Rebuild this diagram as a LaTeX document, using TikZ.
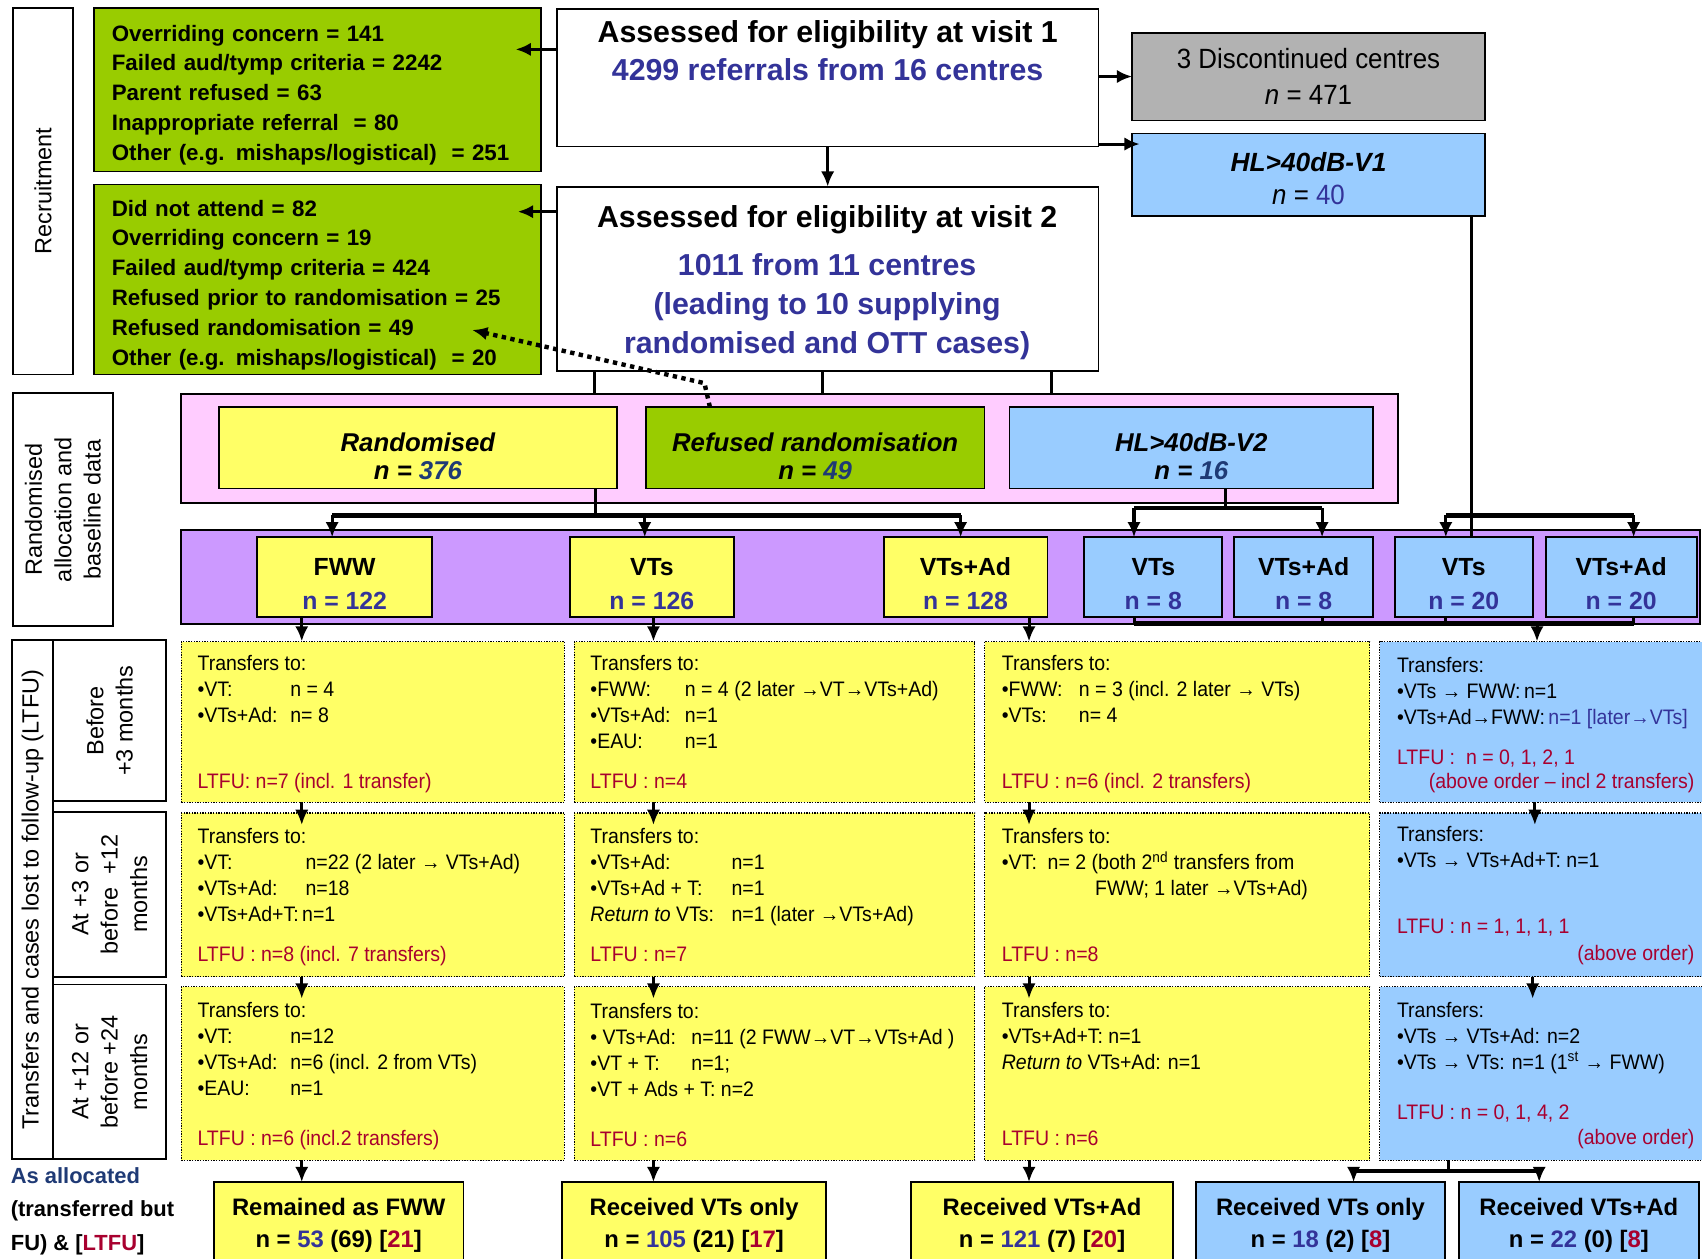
\documentclass[tikz,border=0pt]{standalone}
\usepackage{fontspec}
\setmainfont{Liberation Sans}
\newfontfamily\nrw{Liberation Sans}[FakeStretch=0.93]
\usepackage{xcolor}
\usetikzlibrary{positioning}
\usetikzlibrary{arrows,arrows.meta}
\usetikzlibrary{calc}

\definecolor{grn}{HTML}{99CC00}
\definecolor{ylw}{HTML}{FFFF66}
\definecolor{lblue}{HTML}{99CCFF}
\definecolor{gry}{HTML}{B2B2B2}
\definecolor{pnk}{HTML}{FFCCFF}
\definecolor{prp}{HTML}{CC99FF}
\definecolor{navy}{HTML}{333399}
\definecolor{dnavy}{HTML}{1F3A75}
\definecolor{ltfu}{HTML}{A8002F}

\begin{document}
\begin{tikzpicture}[x=0.02cm,y=-0.02cm,every node/.style={outer sep=0pt},
 boxbase/.style={draw,line width=1pt,inner sep=0pt,anchor=north west},
 sz/.style 2 args={minimum width=#1*0.02cm,minimum height=#2*0.02cm},
 exclbox/.style={boxbase,fill=grn,align=left,inner xsep=0.32cm,text width=7.58cm,
  font=\fontsize{11.7}{15.65}\selectfont\bfseries,
  execute at begin node={\rule{0pt}{14.2pt}}},
 stagebox/.style={boxbase,fill=white},
 sidebox/.style={draw,line width=1pt,inner sep=0pt,rotate=90,align=center,
  font=\fontsize{12.3}{15.4}\selectfont},
 grpbox/.style={boxbase,align=center,font=\fontsize{13.5}{14.5}\selectfont\bfseries\itshape},
 armbox/.style={boxbase,align=center,font=\fontsize{13}{17.6}\selectfont\bfseries},
 tbox/.style={boxbase,line width=0.6pt,dash pattern=on 0.7pt off 0.7pt},
 endbox/.style={boxbase,align=center,font=\fontsize{12.5}{17}\selectfont\bfseries},
 ttxt/.style={anchor=base west,align=left,inner sep=0pt,font=\nrw\fontsize{11}{13.66}\selectfont},
 ltxt/.style={ttxt,text=ltfu},
 otxt/.style={ltxt,anchor=base east},
 link/.style={line width=1.6pt},
 arr/.style={line width=1.6pt,-{Latex[length=8pt,width=7pt]}},
 deep/.style={shorten >=-0.22cm},
 bar/.style={line width=2.6pt},
 dotarr/.style={line width=2.3pt,dash pattern=on 2.3pt off 2.3pt,-{Latex[length=8pt,width=7pt]}}]

 \useasboundingbox (0,0) rectangle (1568,1159);

 % recruitment
 \node[sidebox,sz={338}{55}] (recr) at (39.5,176) {Recruitment};
 \node[exclbox,sz={411}{151}] (ex1) at (87,7) {Overriding concern = 141\\
  Failed aud/tymp criteria = 2242\\Parent refused = 63\\
  Inappropriate referral \ = 80\\Other (e.g. mishaps/logistical) \ = 251};
 \node[exclbox,sz={411}{175}] (ex2) at (87,170) {Did not attend = 82\\
  Overriding concern = 19\\Failed aud/tymp criteria = 424\\
  Refused prior to randomisation = 25\\Refused randomisation = 49\\
  Other (e.g. mishaps/logistical) \ = 20};

 \node[stagebox,sz={499}{127}] (v1) at (513,8) {};
 \node[align=center,font=\fontsize{15.9}{20.2}\selectfont\bfseries] (v1t) at (762.5,46.75)
  {Assessed for eligibility at visit 1\\{\color{navy}4299 referrals from 16 centres}};
 \node[stagebox,sz={499}{170}] (v2) at (513,172) {};
 \node[font=\fontsize{15.9}{20.2}\selectfont\bfseries] (v2t) at (762,202.5)
  {Assessed for eligibility at visit 2};
 \node[align=center,text=navy,font=\fontsize{15.9}{20.5}\selectfont\bfseries] (v2b) at (762,282.5)
  {1011 from 11 centres\\(leading to 10 supplying\\randomised and OTT cases)};

 \node[boxbase,fill=gry,sz={325}{81},align=center,font=\nrw\fontsize{14.6}{18.5}\selectfont]
  (disc) at (1043,30) {3 Discontinued centres\\\textit{n} = 471};
 \node[boxbase,fill=lblue,sz={325}{76},align=center,font=\nrw\fontsize{14.6}{17.6}\selectfont]
  (hl1) at (1043,123) {\rule{0pt}{13.9pt}{\fontsize{13.8}{17.6}\selectfont\normalfont\bfseries\itshape HL>40dB-V1}\\
  \textit{n} = {\color{navy}40}};

 % randomised allocation
 \node[sidebox,sz={215}{92}] (alloc) at (58,469.5) {Randomised\\allocation and\\baseline data};
 \node[boxbase,fill=pnk,sz={1121}{100}] (pinkbg) at (167,363) {};
 \node[grpbox,fill=ylw,sz={366}{75}] (rand) at (202,375)
  {\rule{0pt}{18.8pt}Randomised\\n = {\color{dnavy}376}};
 \node[grpbox,fill=grn,sz={312}{75}] (refd) at (595,375)
  {\rule{0pt}{18.8pt}Refused randomisation\\n = {\color{dnavy}49}};
 \node[grpbox,fill=lblue,sz={335}{75}] (hl2) at (930,375)
  {\rule{0pt}{18.8pt}HL>40dB-V2\\n = {\color{dnavy}16}};

 \node[boxbase,fill=prp,sz={1399}{87}] (purplebg) at (167,488) {};
 \node[armbox,fill=ylw,sz={161}{73}] (fww) at (237,495) {\rule{0pt}{16.2pt}FWW\\{\color{navy}n = 122}};
 \node[armbox,fill=ylw,sz={151}{73}] (vts) at (525,495) {\rule{0pt}{16.2pt}VTs\\{\color{navy}n = 126}};
 \node[armbox,fill=ylw,sz={151}{73}] (vtsad) at (814,495) {\rule{0pt}{16.2pt}VTs+Ad\\{\color{navy}n = 128}};
 \node[armbox,fill=lblue,sz={127}{73}] (bvts1) at (999,495) {\rule{0pt}{16.2pt}VTs\\{\color{navy}n = 8}};
 \node[armbox,fill=lblue,sz={128}{73}] (bvtsad1) at (1137,495) {\rule{0pt}{16.2pt}VTs+Ad\\{\color{navy}n = 8}};
 \node[armbox,fill=lblue,sz={127}{73}] (bvts2) at (1285,495) {\rule{0pt}{16.2pt}VTs\\{\color{navy}n = 20}};
 \node[armbox,fill=lblue,sz={139}{73}] (bvtsad2) at (1424,495) {\rule{0pt}{16.2pt}VTs+Ad\\{\color{navy}n = 20}};

 % follow-up
 \node[sidebox,sz={478}{38}] (ltfu) at (30,829) {Transfers and cases lost to follow-up (LTFU)};
 \node[sidebox,sz={148}{104}] (per1) at (101,664) {Before\\+3 months};
 \node[sidebox,sz={152}{104}] (per2) at (101,824) {At +3 or\\before \ +12\\months};
 \node[sidebox,sz={161}{104}] (per3) at (101,987.5) {At +12 or\\before +24\\months};

 \foreach \c/\xa/\w/\col in {1/167/353/ylw,2/529/369/ylw,3/907/355/ylw,4/1271/300/lblue}
  \foreach \r/\ya/\h in {1/591/148,2/749/151,3/909/160}
   \node[tbox,fill=\col,sz={\w}{\h}] (t\c\r) at (\xa,\ya) {};

 % text nodes sit on the baseline of their last line
 \node[ttxt] (x11) at (182,665.6) {Transfers to:\\\makebox[1.71cm][l]{•VT:}n = 4\\
  \makebox[1.71cm][l]{•VTs+Ad:}n= 8};
 \node[ltxt] (l11) at (182,726) {LTFU: n=7 (incl. 1 transfer)};
 \node[ttxt] (x12) at (182,849.4) {Transfers to:\\
  \makebox[1.99cm][l]{•VT:}n=22 (2 later → VTs+Ad)\\
  \makebox[1.99cm][l]{•VTs+Ad:}n=18\\•VTs+Ad+T:\,n=1};
 \node[ltxt] (l12) at (182,885.6) {LTFU : n=8 (incl. 7 transfers)};
 \node[ttxt] (x13) at (182,1009.1) {Transfers to:\\\makebox[1.71cm][l]{•VT:}n=12\\
  \makebox[1.71cm][l]{•VTs+Ad:}n=6 (incl. 2 from VTs)\\\makebox[1.71cm][l]{•EAU:}n=1};
 \node[ltxt] (l13) at (182,1055) {LTFU : n=6 (incl.2 transfers)};

 \node[ttxt] (x21) at (544,689.6) {Transfers to:\\
  \makebox[1.74cm][l]{•FWW:}n = 4 (2 later →VT→VTs+Ad)\\
  \makebox[1.74cm][l]{•VTs+Ad:}n=1\\\makebox[1.74cm][l]{•EAU:}n=1};
 \node[ltxt] (l21) at (544,726) {LTFU : n=4};
 \node[ttxt] (x22) at (544,849.4) {Transfers to:\\\makebox[2.6cm][l]{•VTs+Ad:}n=1\\
  \makebox[2.6cm][l]{•VTs+Ad + T:}n=1\\
  \makebox[2.6cm][l]{\textit{Return to} VTs:}n=1 (later →VTs+Ad)};
 \node[ltxt] (l22) at (544,885.6) {LTFU : n=7};
 \node[ttxt] (x23) at (544,1010.6) {Transfers to:\\
  \makebox[1.86cm][l]{• VTs+Ad:}n=11 (2 FWW→VT→VTs+Ad )\\
  \makebox[1.86cm][l]{•VT + T:}n=1;\\•VT + Ads + T: n=2};
 \node[ltxt] (l23) at (544,1056.6) {LTFU : n=6};

 \node[ttxt] (x31) at (923,665.6) {Transfers to:\\
  \makebox[1.42cm][l]{•FWW:}n = 3 (incl. 2 later → VTs)\\\makebox[1.42cm][l]{•VTs:}n= 4};
 \node[ltxt] (l31) at (923,726) {LTFU : n=6 (incl. 2 transfers)};
 \node[ttxt] (x32) at (923,825.4) {Transfers to:\\
  •VT:\ \ n= 2 (both 2\textsuperscript{nd} transfers from\\\hspace*{1.72cm}FWW; 1 later →VTs+Ad)};
 \node[ltxt] (l32) at (923,885.6) {LTFU : n=8};
 \node[ttxt] (x33) at (923,985.1) {Transfers to:\\•VTs+Ad+T: n=1\\\textit{Return to} VTs+Ad: n=1};
 \node[ltxt] (l33) at (923,1055) {LTFU : n=6};

 \node[ttxt] (x41) at (1287,667.2) {Transfers:\\•VTs → FWW:\,n=1\\
  •VTs+Ad→FWW:\,{\color{navy}n=1 [later→VTs]}};
 \node[ltxt] (l41) at (1287,704.6) {LTFU :\ \ n = 0, 1, 2, 1};
 \node[otxt] (o41) at (1561,726.6) {(above order – incl 2 transfers)};
 \node[ttxt] (x42) at (1287,799.6) {Transfers:\\•VTs → VTs+Ad+T: n=1};
 \node[ltxt] (l42) at (1287,860.3) {LTFU : n = 1, 1, 1, 1};
 \node[otxt] (o42) at (1561,884.6) {(above order)};
 \node[ttxt] (x43) at (1287,985.1) {Transfers:\\•VTs → VTs+Ad: n=2\\
  •VTs → VTs: n=1 (1\textsuperscript{st} → FWW)};
 \node[ltxt] (l43) at (1287,1031.6) {LTFU : n = 0, 1, 4, 2};
 \node[otxt] (o43) at (1561,1054.6) {(above order)};

 % outcome
 \node[anchor=west,align=left,inner sep=0pt,font=\fontsize{11.5}{17.6}\selectfont\bfseries]
  (legend) at (10,1115.7) {{\color{dnavy}As allocated}\\(transferred but\\
  FU) \& [{\color{ltfu}LTFU}]};
 \node[endbox,fill=ylw,sz={230}{80}] (f1) at (197,1089)
  {Remained as FWW\\n = {\color{navy}53} (69) [{\color{ltfu}21}]};
 \node[endbox,fill=ylw,sz={243}{80}] (f2) at (518,1089)
  {Received VTs only\\n = {\color{navy}105} (21) [{\color{ltfu}17}]};
 \node[endbox,fill=ylw,sz={242}{80}] (f3) at (839,1089)
  {Received VTs+Ad\\n = {\color{navy}121} (7) [{\color{ltfu}20}]};
 \node[endbox,fill=lblue,sz={229}{80}] (f4) at (1102,1089)
  {Received VTs only\\n = {\color{navy}18} (2) [{\color{ltfu}8}]};
 \node[endbox,fill=lblue,sz={221}{80}] (f5) at (1344,1089)
  {Received VTs+Ad\\n = {\color{navy}22} (0) [{\color{ltfu}8}]};

 % connectors
 \coordinate (j1) at (475,45.5);
 \coordinate (j2) at (477,195);
 \coordinate (j4) at (1050,132.7);
 \draw[arr] (v1.west |- j1) -- (j1);
 \draw[arr] (v2.west |- j2) -- (j2);
 \draw[arr] (v1.east |- disc.west) -- (disc.west);
 \draw[arr] (v1.east |- j4) -- (j4);
 \draw[arr] (v1.south) -- (v2.north);
 \foreach \x in {548,758,969}
  \draw[link] (v2.south -| \x,0) -- (pinkbg.north -| \x,0);

 \coordinate (rb) at (549,474.6);
 \draw[link] (rand.south -| rb) -- (rb);
 \draw[bar] (306,474.6) coordinate (b1) -- (885,474.6) coordinate (b3);
 \coordinate (b2) at (594,474.6);
 \draw[arr] (b1) -- (fww.north -| b1);
 \draw[arr] (b2) -- (vts.north -| b2);
 \draw[arr] (b3) -- (vtsad.north -| b3);

 \coordinate (hb) at (1128.6,468);
 \draw[link] (hl2.south -| hb) -- (hb);
 \draw[bar] (1044.7,468) coordinate (h1) -- (1218,468) coordinate (h2);
 \draw[arr] (h1) -- (bvts1.north -| h1);
 \draw[arr] (h2) -- (bvtsad1.north -| h2);

 \coordinate (vb) at (1356,474.6);
 \draw[link] (hl1.south -| vb) -- (bvts2.north -| vb);
 \draw[bar] (1332,474.6) coordinate (g1) -- (1505,474.6) coordinate (g2);
 \draw[arr] (g1) -- (bvts2.north -| g1);
 \draw[arr] (g2) -- (bvtsad2.north -| g2);

 \foreach \x/\n in {1045/bvts1,1218/bvtsad1,1332/bvts2,1505/bvtsad2}
  \draw[link] (\n.south -| \x,0) -- (\x,574);
 \draw[bar] (1045,574) -- (1505,574);
 \coordinate (k4) at (1416,574);
 \draw[arr] (k4) -- (t41.north -| k4);
 \foreach \a/\b/\x in {t41/t42/1414,t42/t43/1412}
  \draw[arr,deep] (\a.south -| \x,0) -- (\b.north -| \x,0);

 \foreach \c/\x/\top/\bot in {1/278/fww/f1,2/602/vts/f2,3/948/vtsad/f3}
 {\draw[arr] (\top.south -| \x,0) -- (t\c1.north -| \x,0);
  \draw[arr,deep] (t\c1.south -| \x,0) -- (t\c2.north -| \x,0);
  \draw[arr,deep] (t\c2.south -| \x,0) -- (t\c3.north -| \x,0);
  \draw[arr] (t\c3.south -| \x,0) -- (\bot.north -| \x,0);
 }

 \coordinate (eb) at (1334.7,1078.8);
 \draw[link] (t43.south -| eb) -- (eb);
 \draw[bar] (1247,1078.8) coordinate (e1) -- (1418,1078.8) coordinate (e2);
 \draw[arr] (e1) -- (f4.north -| e1);
 \draw[arr] (e2) -- (f5.north -| e2);

 \coordinate (dk) at (649,353);
 \coordinate (dt) at (435,304);
 \draw[dotarr] (refd.north -| 654,0) -- (dk) -- (dt);

\end{tikzpicture}
\end{document}
